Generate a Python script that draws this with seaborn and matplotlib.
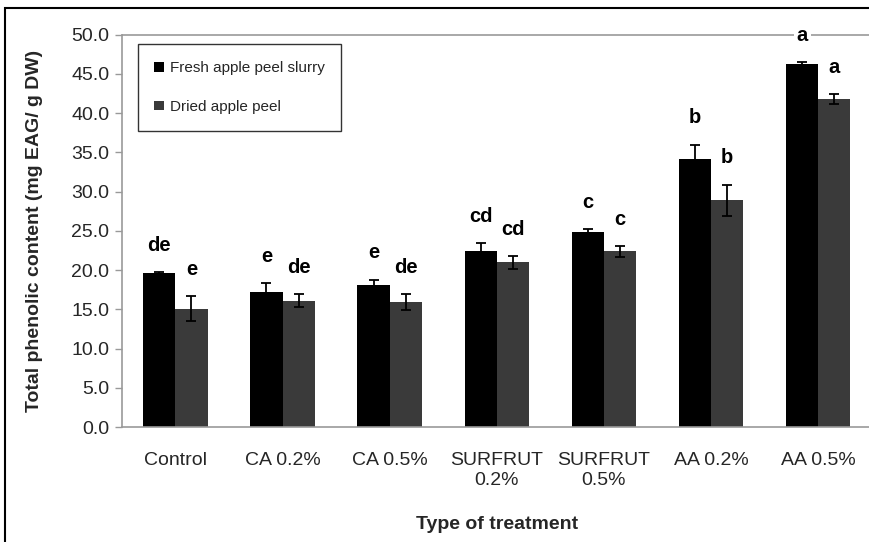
import numpy as np
import pandas as pd
import matplotlib
matplotlib.use("Agg")
import matplotlib.pyplot as plt
import seaborn as sns

# data
treatments = ["Control", "CA 0.2%", "CA 0.5%", "SURFRUT\n0.2%", "SURFRUT\n0.5%", "AA 0.2%", "AA 0.5%"]
series = ["Fresh apple peel slurry", "Dried apple peel"]
fresh_vals = [19.6, 17.2, 18.1, 22.5, 24.9, 34.2, 46.3]
fresh_err = [0.2, 1.1, 0.7, 0.9, 0.3, 1.8, 0.2]
dried_vals = [15.1, 16.1, 15.9, 21.0, 22.4, 28.9, 41.8]
dried_err = [1.6, 0.8, 1.0, 0.8, 0.7, 2.0, 0.6]
fresh_letters = ["de", "e", "e", "cd", "c", "b", "a"]
dried_letters = ["e", "de", "de", "cd", "c", "b", "a"]
y_ticks = [0, 5, 10, 15, 20, 25, 30, 35, 40, 45, 50]

df = pd.DataFrame({
    "treatment": treatments * 2,
    "series": [series[0]] * len(treatments) + [series[1]] * len(treatments),
    "value": fresh_vals + dried_vals,
})

sns.set_style("white")
plt.rcParams["font.family"] = ["Liberation Sans", "DejaVu Sans"]

fig = plt.figure(figsize=(8.7, 5.42), dpi=100)
ax = fig.add_axes([0.140, 0.212, 0.862, 0.724])

sns.barplot(data=df, x="treatment", y="value", hue="series", order=treatments,
            hue_order=series, palette=["#000000", "#3a3a3a"], width=0.6,
            gap=0, errorbar=None, saturation=1, linewidth=0, ax=ax)

# error bars and letters placed on the drawn bars
n = len(treatments)
bars = ax.patches[:2 * n]
all_err = fresh_err + dried_err
all_vals = fresh_vals + dried_vals
all_letters = fresh_letters + dried_letters
for p, v, e, lab in zip(bars, all_vals, all_err, all_letters):
    xc = p.get_x() + p.get_width() / 2
    ax.errorbar(xc, v, yerr=e, fmt="none", ecolor="black", elinewidth=1.3,
                capsize=3.5, capthick=1.3)
    t = ax.text(xc, v + e + 3.4, lab, ha="center", va="center",
                fontsize=14.5, fontweight="bold", color="black", zorder=5)
    if v + e + 3.4 > 48:
        t.set_bbox(dict(facecolor="white", edgecolor="none", pad=2))

ax.set_ylim(0, 50)
ax.set_xlim(-0.5, n - 0.5)
ax.set_yticks(y_ticks)
ax.set_yticklabels([f"{t:.1f}" for t in y_ticks], fontsize=14)
ax.set_xticks(range(n))
ax.set_xticklabels(treatments, fontsize=14, linespacing=1.2)
ax.set_xticks(np.arange(0.5, n - 0.5, 1), minor=True)
ax.tick_params(axis="x", which="major", length=0, pad=18)
ax.tick_params(axis="x", which="minor", length=5, color="#999999", width=1, direction="out")
ax.tick_params(axis="y", length=5, color="#999999", width=1, direction="out", pad=4, left=True)

ax.axhline(50, color="#999999", lw=1.2, zorder=1, clip_on=False)
for s in ["top", "right"]:
    ax.spines[s].set_visible(False)
for s in ["left", "bottom"]:
    ax.spines[s].set_color("#999999")
    ax.spines[s].set_linewidth(1.2)

ax.set_xlabel("Type of treatment", fontsize=14, fontweight="bold", labelpad=20)
ax.set_ylabel("Total phenolic content (mg EAG/ g DW)", fontsize=14, fontweight="bold", labelpad=20)

leg = ax.legend(loc="upper left", bbox_to_anchor=(0.021, 0.975), frameon=True,
                fancybox=False, edgecolor="black", fontsize=11,
                handlelength=0.6, handleheight=0.6, handletextpad=0.4, labelspacing=1.6,
                borderpad=1.1, borderaxespad=0)
leg.get_frame().set_linewidth(1.0)
leg.set_title(None)

# outer frame of the picture
fig.add_artist(plt.Rectangle((0.006, -0.01), 1.0, 0.995, transform=fig.transFigure,
                             fill=False, edgecolor="black", lw=1.5))

fig.savefig("out.png", dpi=100)
